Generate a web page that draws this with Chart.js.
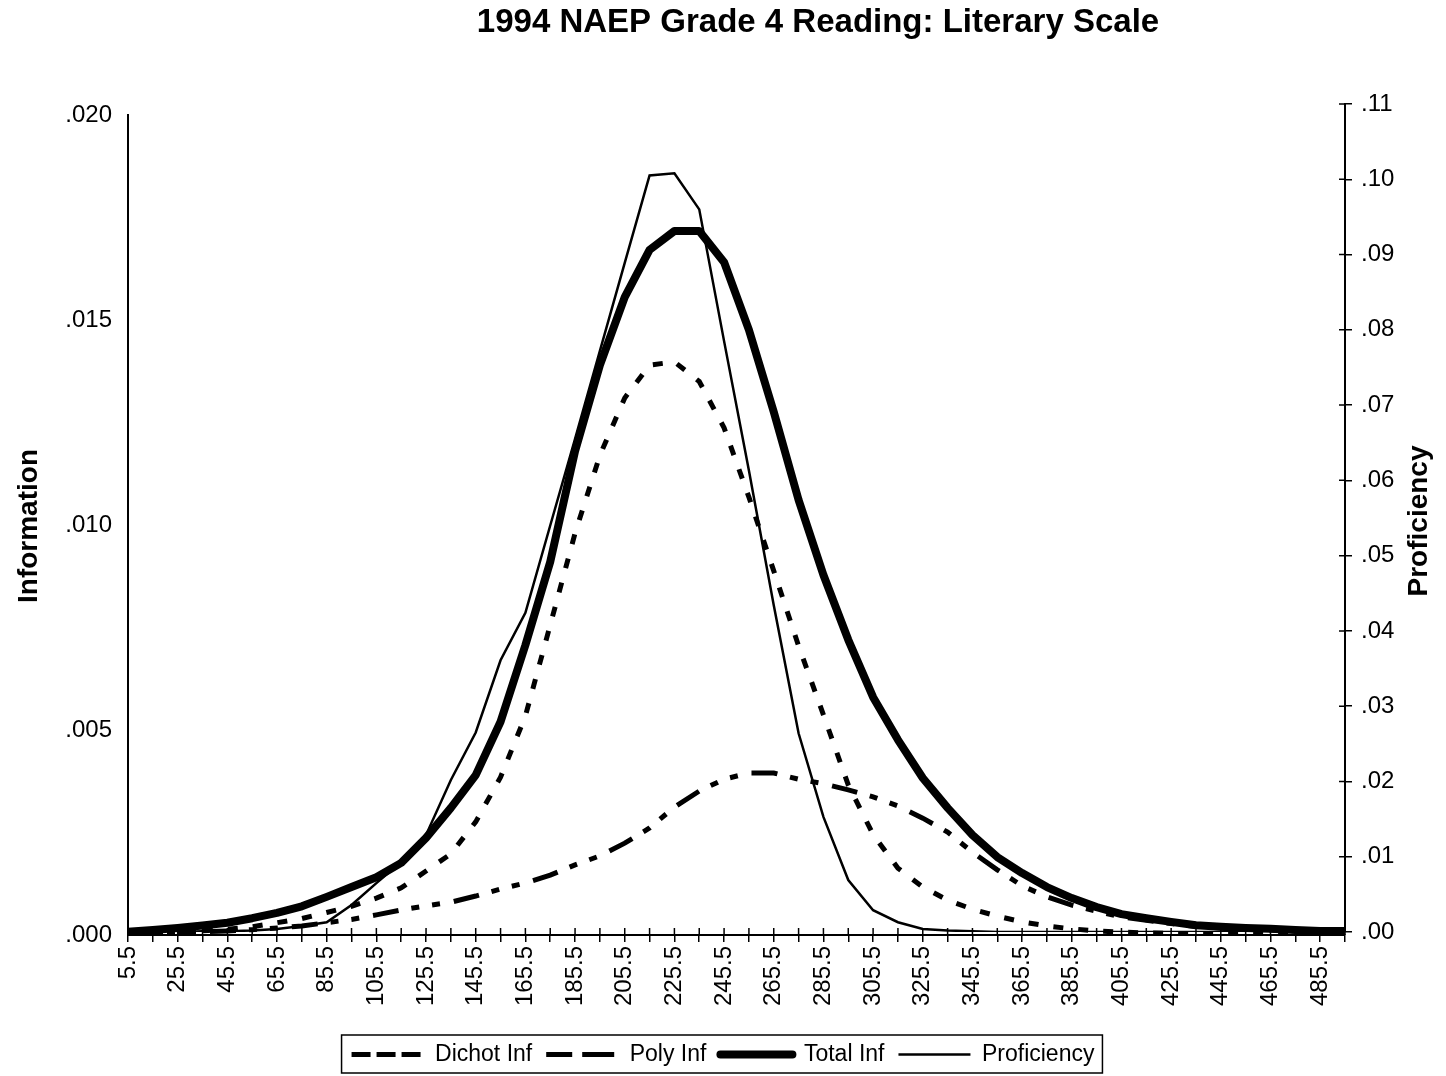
<!DOCTYPE html>
<html>
<head>
<meta charset="utf-8">
<title>1994 NAEP Grade 4 Reading: Literary Scale</title>
<script src="https://cdn.jsdelivr.net/npm/chart.js@4.4.1/dist/chart.umd.min.js"></script>
<style>
    body { margin: 0; background: #fff; }
</style>
</head>
<body>
<canvas id="chart" width="1446" height="1076"></canvas>
<script>
const FONT = "'Liberation Sans', Arial, sans-serif";
const TITLE = '1994 NAEP Grade 4 Reading: Literary Scale';

// theta points (category axis)
const categories = [
    '5.5', '15.5', '25.5', '35.5', '45.5', '55.5', '65.5', '75.5', '85.5', '95.5',
    '105.5', '115.5', '125.5', '135.5', '145.5', '155.5', '165.5', '175.5', '185.5', '195.5',
    '205.5', '215.5', '225.5', '235.5', '245.5', '255.5', '265.5', '275.5', '285.5', '295.5',
    '305.5', '315.5', '325.5', '335.5', '345.5', '355.5', '365.5', '375.5', '385.5', '395.5',
    '405.5', '415.5', '425.5', '435.5', '445.5', '455.5', '465.5', '475.5', '485.5', '495.5'
];

// information, left axis
const dichotInf = [
    0.00002, 0.00004, 0.00007, 0.0001, 0.00014, 0.0002, 0.0003, 0.0004, 0.00055, 0.0007,
    0.0009, 0.00115, 0.00156, 0.00198, 0.00276, 0.00385, 0.00534, 0.00756, 0.0098, 0.0117,
    0.0131, 0.0139, 0.01398, 0.0135, 0.01237, 0.01068, 0.00888, 0.00705, 0.00537, 0.00366,
    0.00245, 0.00163, 0.00117, 0.00085, 0.00063, 0.00046, 0.00032, 0.00022, 0.00015, 0.0001,
    0.00007, 0.00005, 0.00004, 0.00003, 0.00002, 0.00002, 0.00001, 0.00001, 0.00001, 0.00001
];
const polyInf = [
    0.00003, 0.00004, 0.00006, 0.00008, 0.0001, 0.00013, 0.00017, 0.00022, 0.0003, 0.00038,
    0.00049, 0.00061, 0.00071, 0.0008, 0.00095, 0.00112, 0.00127, 0.00146, 0.00171, 0.00193,
    0.00224, 0.00261, 0.00312, 0.00351, 0.0038, 0.00395, 0.00395, 0.0038, 0.00369, 0.00354,
    0.00337, 0.00315, 0.00285, 0.00251, 0.00202, 0.00159, 0.0012, 0.00093, 0.00073, 0.00058,
    0.00044, 0.00036, 0.00028, 0.00021, 0.00017, 0.00014, 0.00012, 0.0001, 0.00009, 0.00008
];
const totalInf = [
    0.00008, 0.00012, 0.00017, 0.00023, 0.0003, 0.00041, 0.00054, 0.0007, 0.00093, 0.00117,
    0.00141, 0.00176, 0.00237, 0.0031, 0.0039, 0.0052, 0.00707, 0.0091, 0.0118, 0.0139,
    0.01556, 0.01671, 0.01717, 0.01717, 0.01641, 0.01476, 0.01276, 0.01061, 0.00878, 0.0072,
    0.0058, 0.00476, 0.00383, 0.0031, 0.00244, 0.0019, 0.00151, 0.00117, 0.0009, 0.00068,
    0.00051, 0.00041, 0.00032, 0.00024, 0.0002, 0.00017, 0.00015, 0.00012, 0.0001, 0.0001
];

// proficiency distribution, right axis
const proficiency = [
    0, 0, 0, 0.0001, 0.0001, 0.0002, 0.0004, 0.0008, 0.0013, 0.0036,
    0.0065, 0.0093, 0.0129, 0.0202, 0.0265, 0.0361, 0.0424, 0.054, 0.0655, 0.0772,
    0.0889, 0.1005, 0.1008, 0.096, 0.0785, 0.0613, 0.0434, 0.0264, 0.0153, 0.0069,
    0.0029, 0.0013, 0.0004, 0.0002, 0.0001, 0, 0, 0, 0, 0,
    0, 0, 0, 0, 0, 0, 0, 0, 0, 0
];

const leftTicks = { min: 0, max: 0.02, step: 0.005 };
const rightTicks = { min: 0, max: 0.11, step: 0.01 };

// strip the leading zero the way the original does (.005, .10)
function dotLabel(v, digits) {
    return v.toFixed(digits).replace(/^0/, '');
}

const extras = {
    id: 'extras',
    afterLayout(chart) {
        // the right axis in the original runs a little taller than the left one
        const s = chart.scales.y1;
        s.top = 104;
        s.bottom = 932;
        s.height = s.bottom - s.top;
        s.configure();
    },
    afterDraw(chart) {
        const ctx = chart.ctx;
        const area = chart.chartArea;
        const x = chart.scales.x;
        const y1 = chart.scales.y1;
        ctx.save();
        ctx.strokeStyle = '#000';
        ctx.lineWidth = 1.5;

        // inner half of the cross tick marks
        ctx.beginPath();
        x.ticks.forEach((t, i) => {
            const px = x.getPixelForTick(i);
            ctx.moveTo(px, area.bottom - 7);
            ctx.lineTo(px, area.bottom);
        });
        y1.ticks.forEach((t, i) => {
            const py = y1.getPixelForTick(i);
            ctx.moveTo(area.right - 6, py);
            ctx.lineTo(area.right, py);
        });
        ctx.stroke();

        ctx.fillStyle = '#000';
        ctx.textAlign = 'center';
        ctx.textBaseline = 'middle';

        // title
        ctx.font = 'bold 33px ' + FONT;
        ctx.fillText(TITLE, 818, 23);

        // both axis titles read bottom to top
        ctx.font = 'bold 28px ' + FONT;
        [[29, 526, 'Information'], [1419, 521, 'Proficiency']].forEach(([tx, ty, text]) => {
            ctx.save();
            ctx.translate(tx, ty);
            ctx.rotate(-Math.PI / 2);
            ctx.fillText(text, 0, 0);
            ctx.restore();
        });

        // frame round the legend
        const boxes = chart.legend.legendHitBoxes;
        if (boxes && boxes.length) {
            const l = Math.min(...boxes.map(b => b.left)) - 10;
            const r = Math.max(...boxes.map(b => b.left + b.width)) + 8;
            const t = Math.min(...boxes.map(b => b.top)) - 8;
            const b = Math.max(...boxes.map(b => b.top + b.height)) + 7;
            ctx.lineWidth = 1.5;
            ctx.strokeRect(l, t, r - l, b - t);
        }
        ctx.restore();
    }
};

const ctx = document.getElementById('chart').getContext('2d');

new Chart(ctx, {
    type: 'line',
    data: {
        labels: categories,
        datasets: [
            {
                label: 'Dichot Inf',
                data: dichotInf,
                yAxisID: 'y',
                borderColor: '#000',
                borderWidth: 5,
                borderDash: [10, 15]
            },
            {
                label: 'Poly Inf',
                data: polyInf,
                yAxisID: 'y',
                borderColor: '#000',
                borderWidth: 5,
                borderDash: [26, 13, 8, 13, 8, 14]
            },
            {
                label: 'Total Inf',
                data: totalInf,
                yAxisID: 'y',
                borderColor: '#000',
                borderWidth: 8,
                borderJoinStyle: 'round'
            },
            {
                label: 'Proficiency',
                data: proficiency,
                yAxisID: 'y1',
                borderColor: '#000',
                borderWidth: 2.5
            }
        ]
    },
    options: {
        responsive: false,
        animation: false,
        events: [],
        layout: { padding: { top: 115, left: 0, right: 0, bottom: 0 } },
        elements: {
            point: { radius: 0 },
            line: { tension: 0, fill: false }
        },
        plugins: {
            title: { display: false },
            legend: {
                position: 'bottom',
                labels: {
                    color: '#000',
                    font: { family: FONT, size: 23 },
                    boxWidth: 72,
                    boxHeight: 0,
                    padding: 14
                }
            },
            tooltip: { enabled: false }
        },
        scales: {
            x: {
                offset: false,
                grid: {
                    drawOnChartArea: false,
                    drawTicks: true,
                    tickLength: 7,
                    color: '#000',
                    lineWidth: 1.5
                },
                border: { display: true, color: '#000', width: 2 },
                ticks: {
                    autoSkip: false,
                    minRotation: 90,
                    maxRotation: 90,
                    padding: 4,
                    color: '#000',
                    font: { family: FONT, size: 24 },
                    callback: (v, i) => (i % 2 === 0 ? categories[i] : '')
                },
                afterFit: scale => {
                    scale.height = 1076 - scale.chart.legend.height - 935;
                }
            },
            y: {
                position: 'left',
                min: leftTicks.min,
                max: leftTicks.max,
                grid: { display: false, drawTicks: false },
                border: { display: true, color: '#000', width: 2 },
                ticks: {
                    stepSize: leftTicks.step,
                    padding: 16,
                    color: '#000',
                    font: { family: FONT, size: 24 },
                    callback: v => dotLabel(v, 3)
                },
                afterFit: scale => { scale.width = 128; }
            },
            y1: {
                position: 'right',
                min: rightTicks.min,
                max: rightTicks.max,
                grid: {
                    drawOnChartArea: false,
                    drawTicks: true,
                    tickLength: 7,
                    color: '#000',
                    lineWidth: 1.5
                },
                border: { display: true, color: '#000', width: 2 },
                ticks: {
                    stepSize: rightTicks.step,
                    padding: 9,
                    color: '#000',
                    font: { family: FONT, size: 24 },
                    callback: v => dotLabel(v, 2)
                },
                afterFit: scale => { scale.width = 101; }
            }
        }
    },
    plugins: [extras]
});
</script>
</body>
</html>
